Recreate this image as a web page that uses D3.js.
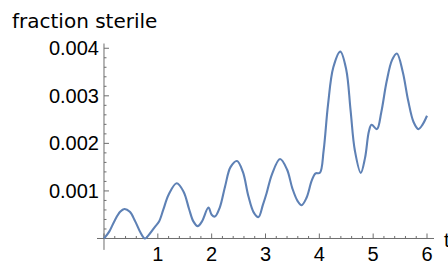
<!DOCTYPE html>
<html lang="en">
<head>
	<meta charset="UTF-8">
	<title>fraction sterile</title>
	<script src="https://d3js.org/d3.v7.min.js"></script>
	<style>
		body, html {
			margin: 0;
			padding: 0;
			background: #fff;
			overflow: hidden;
		}
		svg {
			display: block;
		}
		.axis-line {
			stroke: #6e6e6e;
			stroke-width: 1;
		}
		.tick-label {
			font-family: "Liberation Sans", Arial, sans-serif;
			font-size: 20px;
			fill: #000;
		}
		.axis-title {
			font-family: "DejaVu Sans", sans-serif;
			font-size: 20px;
			fill: #000;
		}
		.series {
			fill: none;
			stroke: #5e81b5;
			stroke-width: 2.1;
		}
	</style>
</head>
<body>
<div id="chart"></div>
	<script>
		// values
		const tValues = [0.00, 0.10, 0.20, 0.30, 0.38, 0.48, 0.58, 0.68, 0.76, 0.85,
			0.95, 1.02, 1.10, 1.20, 1.35, 1.48, 1.58, 1.66, 1.74, 1.82,
			1.94, 2.00, 2.06, 2.15, 2.25, 2.35, 2.47, 2.58, 2.68, 2.78,
			2.87, 2.95, 3.02, 3.12, 3.27, 3.40, 3.50, 3.60, 3.67, 3.76,
			3.86, 3.93, 4.01, 4.08, 4.16, 4.26, 4.39, 4.50, 4.58, 4.66,
			4.77, 4.85, 4.92, 4.97, 5.07, 5.15, 5.25, 5.35, 5.44, 5.55,
			5.65, 5.75, 5.84, 5.92, 6.00];
		const fractionSterile = [0.00000, 0.00015, 0.00038, 0.00056, 0.00062, 0.00056, 0.00036, 0.00012, 0.00000, 0.00010,
			0.00025, 0.00035, 0.00060, 0.00092, 0.00116, 0.00098, 0.00062, 0.00036, 0.00026, 0.00036,
			0.00065, 0.00050, 0.00046, 0.00065, 0.00110, 0.00150, 0.00163, 0.00140, 0.00090, 0.00055,
			0.00045, 0.00070, 0.00095, 0.00135, 0.00167, 0.00145, 0.00105, 0.00078, 0.00070, 0.00085,
			0.00122, 0.00137, 0.00138, 0.00185, 0.00280, 0.00360, 0.00393, 0.00355, 0.00270, 0.00185,
			0.00138, 0.00170, 0.00225, 0.00239, 0.00230, 0.00265, 0.00330, 0.00375, 0.00389, 0.00350,
			0.00290, 0.00245, 0.00230, 0.00240, 0.00258];

		const xTicks = [1, 2, 3, 4, 5, 6];
		const xMinorTicks = d3.range(1, 31).map(i => i * 0.2).filter(v => Math.abs(v - Math.round(v)) > 1e-6);
		const yTicks = [0.001, 0.002, 0.003, 0.004];
		const yMinorTicks = d3.range(1, 21).map(i => i * 0.0002).filter(v => Math.abs(v * 1000 - Math.round(v * 1000)) > 1e-6);
		const xTitle = "t";
		const yTitle = "fraction sterile";

		const width = 448;
		const height = 263;

		const svg = d3.select("#chart")
			.append("svg")
			.attr("width", width)
			.attr("height", height);

		const x = d3.scaleLinear().domain([-0.13, 6.13]).range([97, 434]);
		const y = d3.scaleLinear().domain([-0.00024, 0.0041]).range([249.9, 43.5]);

		// axes
		svg.append("line").attr("class", "axis-line")
			.attr("x1", x.range()[0]).attr("x2", x.range()[1])
			.attr("y1", y(0)).attr("y2", y(0));
		svg.append("line").attr("class", "axis-line")
			.attr("x1", x(0)).attr("x2", x(0))
			.attr("y1", y.range()[0]).attr("y2", y.range()[1]);

		// x ticks, drawn upward from the axis
		svg.selectAll(".xmajor").data([0].concat(xTicks)).enter().append("line")
			.attr("class", "axis-line")
			.attr("x1", d => x(d)).attr("x2", d => x(d))
			.attr("y1", y(0)).attr("y2", y(0) - 5);
		svg.selectAll(".xminor").data(xMinorTicks).enter().append("line")
			.attr("class", "axis-line")
			.attr("x1", d => x(d)).attr("x2", d => x(d))
			.attr("y1", y(0)).attr("y2", y(0) - 2.5);

		// y ticks, drawn to the right
		svg.selectAll(".ymajor").data(yTicks).enter().append("line")
			.attr("class", "axis-line")
			.attr("x1", x(0)).attr("x2", x(0) + 5)
			.attr("y1", d => y(d)).attr("y2", d => y(d));
		svg.selectAll(".yminor").data(yMinorTicks).enter().append("line")
			.attr("class", "axis-line")
			.attr("x1", x(0)).attr("x2", x(0) + 2.5)
			.attr("y1", d => y(d)).attr("y2", d => y(d));

		svg.selectAll(".xlabel").data(xTicks).enter().append("text")
			.attr("class", "tick-label")
			.attr("x", d => x(d))
			.attr("y", 261)
			.attr("text-anchor", "middle")
			.text(d => d);

		svg.selectAll(".ylabel").data(yTicks).enter().append("text")
			.attr("class", "tick-label")
			.attr("x", x(0) - 5)
			.attr("y", d => y(d))
			.attr("dy", "0.35em")
			.attr("text-anchor", "end")
			.text(d => d3.format(".3f")(d));

		svg.append("text").attr("class", "tick-label")
			.attr("x", 444).attr("y", 247)
			.text(xTitle);
		svg.append("text").attr("class", "axis-title")
			.attr("x", 12).attr("y", 28)
			.attr("font-size", "20.5px")
			.text(yTitle);

		const line = d3.line()
			.x((d, i) => x(tValues[i]))
			.y(d => y(d))
			.curve(d3.curveCatmullRom.alpha(0.5));

		svg.append("path")
			.attr("class", "series")
			.attr("d", line(fractionSterile));
	</script>
</body>
</html>
